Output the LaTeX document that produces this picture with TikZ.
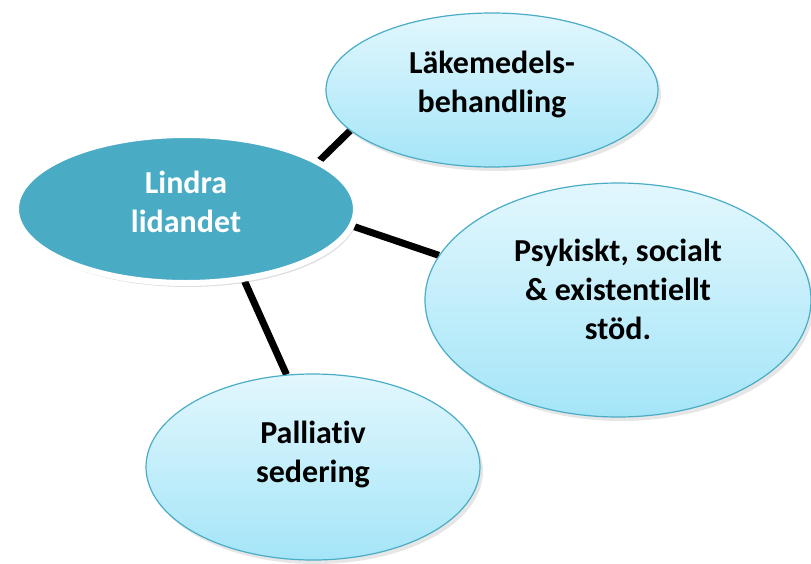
\documentclass[tikz,border=0pt]{standalone}
\usepackage{fontspec}
\setmainfont{Carlito}[Ligatures={NoCommon}]
\usepackage{tikz}
\usetikzlibrary{shapes,backgrounds,shadows}
\definecolor{hubblue}{HTML}{4AABC5}
\definecolor{leaftop}{HTML}{E2F7FD}
\definecolor{leafbottom}{HTML}{A4E5F8}
\definecolor{leafedge}{HTML}{4BACC6}

\begin{document}
\begin{tikzpicture}[x=1pt,y=-1pt]
          \tikzstyle{hub} = [ellipse, fill=hubblue, draw=white, line width=6pt, text=white, align=center,
          font=\fontsize{32}{39}\selectfont\bfseries, minimum width=340pt, minimum height=148pt,
          drop shadow={shadow xshift=2pt, shadow yshift=-4pt, opacity=0.25}]
          \tikzstyle{leaf} = [ellipse, draw=leafedge, line width=1.2pt, top color=leaftop, bottom color=leafbottom,
          align=center, font=\fontsize{32}{39}\selectfont\bfseries,
          drop shadow={shadow xshift=3pt, shadow yshift=-4pt, opacity=0.2}]
          \tikzstyle{link} = [line width=7pt, black]

          \useasboundingbox (0,0) rectangle (811,563);

          \node[hub, text depth=14pt] (relief) at (186,209) {Lindra\\lidandet};
          \node[leaf, minimum width=332pt, minimum height=154pt, text depth=16pt] (drug) at (492,90) {Läkemedels-\\behandling};
          \node[leaf, minimum width=386pt, minimum height=234pt, text depth=22pt] (support) at (618,300) {Psykiskt, socialt\\\& existentiellt\\stöd.};
          \node[leaf, minimum width=334pt, minimum height=186pt, text depth=30pt] (sedation) at (313,467) {Palliativ\\sedering};

          \begin{scope}[on background layer]
            \draw[link] (relief.20) -- (drug.196);
            \draw[link] (relief.-6) -- (support.166);
            \draw[link] (relief.-51) -- (sedation.106);
          \end{scope}
        \end{tikzpicture}
\end{document}
